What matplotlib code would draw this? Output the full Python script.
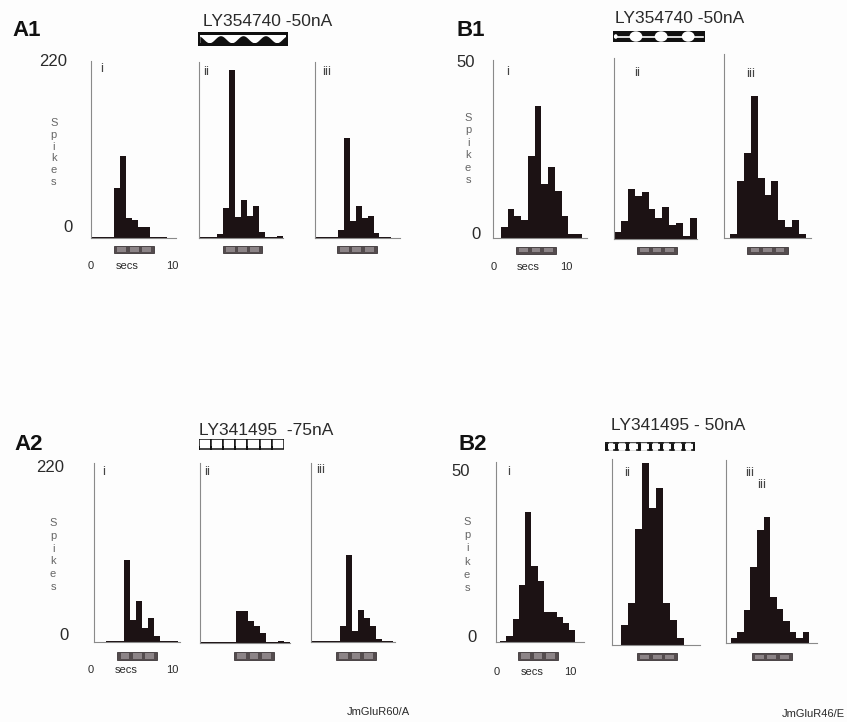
import numpy as np
import matplotlib
matplotlib.use('Agg')
import matplotlib.pyplot as plt
from matplotlib.patches import Rectangle, Ellipse

plt.rcParams['font.family'] = ['Liberation Sans', 'DejaVu Sans']

W, H = 847, 722

# spike counts per time bin
a1_i = [1, 1, 1, 1, 63, 102, 25, 23, 14, 14, 1, 1, 1, 0]
a1_ii = [1, 1, 1, 5, 37, 209, 26, 47, 27, 40, 7, 1, 1, 2]
a1_iii = [1, 1, 1, 1, 10, 125, 22, 40, 25, 28, 7, 1, 1, 0]
b1_i = [3, 8, 6, 5, 23, 37, 15, 20, 13, 6, 1, 1]
b1_ii = [2, 5, 14, 12, 13, 8.5, 6, 9, 4, 4.5, 1, 6]
b1_iii = [1, 16, 24, 40, 17, 12, 16, 5, 3, 5, 1]
a2_i = [0, 0, 1, 1, 2, 101, 27, 51, 18, 30, 8, 2, 1, 1]
a2_ii = [1, 1, 1, 1, 2, 2, 39, 39, 27, 21, 12, 2, 2, 3, 1]
a2_iii = [1, 1, 1, 2, 1, 20, 107, 14, 40, 30, 20, 4, 2, 1]
b2_i = [0.4, 1.8, 6.4, 16, 36, 21, 17, 8.5, 8.5, 7, 5.3, 3.4]
b2_ii = [5.5, 11.7, 32, 50.5, 38, 43.5, 11.5, 7, 2]
b2_iii = [1.4, 3.2, 9.2, 21, 31.4, 34.8, 12.7, 9.4, 6.3, 3, 1.4, 3.2]

numerals = ['i', 'ii', 'iii']
drug_titles = ['LY354740 -50nA', 'LY354740 -50nA', 'LY341495  -75nA', 'LY341495 - 50nA']

bar_color = '#1c1214'
axis_color = '#8a8a8a'
text_color = '#2a2a2a'

fig = plt.figure(figsize=(W / 100, H / 100), dpi=100)
fig.patch.set_facecolor('#fdfdfd')


def fx(x):
    return x / W


def fy(y):
    return 1 - y / H


def txt(x, y, s, size, **kw):
    kw.setdefault('color', text_color)
    fig.text(fx(x), fy(y), s, fontsize=size, ha=kw.pop('ha', 'center'),
             va=kw.pop('va', 'center'), **kw)


def histo(counts, left, right, top, base, binw, first, ymax):
    ax = fig.add_axes([fx(left), fy(base), (right - left) / W, (base - top) / H])
    ax.set_facecolor('none')
    off = (first - left) / binw
    x = off + np.arange(len(counts))
    ax.bar(x, counts, width=1.0, align='edge', color=bar_color, linewidth=0)
    ax.set_xlim(0, (right - left) / binw)
    ax.set_ylim(0, ymax)
    for s in ['top', 'right']:
        ax.spines[s].set_visible(False)
    for s in ['left', 'bottom']:
        ax.spines[s].set_color(axis_color)
        ax.spines[s].set_linewidth(0.8)
    ax.set_xticks([])
    ax.set_yticks([])
    return ax


def stim_bar(x0, x1, y0, y1):
    fig.patches.append(Rectangle((fx(x0), fy(y1)), (x1 - x0) / W, (y1 - y0) / H,
                                 transform=fig.transFigure, facecolor='#544c4e',
                                 edgecolor='#3c3638', linewidth=0.6))
    w = (x1 - x0)
    for k in range(3):
        sx = x0 + w * (0.08 + k * 0.31)
        fig.patches.append(Rectangle((fx(sx), fy(y1 - 1.5)), (w * 0.22) / W, (y1 - y0 - 3) / H,
                                     transform=fig.transFigure, facecolor='#8c8487',
                                     linewidth=0))


def drug_axes(x0, x1, y0, y1):
    ax = fig.add_axes([fx(x0), fy(y1), (x1 - x0) / W, (y1 - y0) / H])
    ax.set_xlim(0, 1)
    ax.set_ylim(0, 1)
    ax.axis('off')
    return ax


def spikes(x, y0, y1):
    step = (y1 - y0) / 5
    for k, ch in enumerate('Spikes'):
        txt(x, y0 + k * step, ch, 8, color='#666666')


def secs(x0, xs, x10, y):
    txt(x0, y, '0', 8)
    txt(xs, y, 'secs', 8)
    txt(x10, y, '10', 8)


# ---------------- A1 ----------------
histo(a1_i, 90.7, 176, 61, 238.3, 5.9, 90.7, 220)
histo(a1_ii, 199, 282.7, 61.7, 237.7, 6.0, 199, 220)
histo(a1_iii, 315, 400, 61.7, 238.3, 5.85, 315, 220)
for (x0, x1) in [(114.3, 154), (222.7, 262.3), (336.7, 376.7)]:
    stim_bar(x0, x1, 245.5, 253)
for (x, y), n in zip([(101.7, 68.5), (205.7, 72), (326.7, 72)], numerals):
    txt(x, y, n, 9.5, color='#444444')
txt(27, 30, 'A1', 16, fontweight='bold', color='#111111')
txt(53, 61.5, '220', 12)
txt(67.5, 227, '0', 12)
spikes(53.7, 123, 182)
secs(90.7, 126.7, 172.7, 265.7)
txt(267.5, 21, drug_titles[0], 12.5)
ax = drug_axes(198, 288, 31.5, 45.5)
ax.add_patch(Rectangle((0, 0), 1, 1, facecolor='#111111', linewidth=0))
ax.add_patch(Rectangle((0.02, 0.15), 0.96, 0.6, facecolor='white', linewidth=0))
xw = np.linspace(0.02, 0.98, 400)
ax.fill_between(xw, 0.15, 0.2 + 0.5 * (0.5 + 0.5 * np.cos(2 * np.pi * 4 * xw)), color='#111111', linewidth=0)

# ---------------- B1 ----------------
histo(b1_i, 492.7, 586.7, 60, 237.7, 6.73, 501, 50)
histo(b1_ii, 614.3, 696.7, 58.3, 239.3, 6.86, 614.3, 50)
histo(b1_iii, 724, 810.7, 54, 237.7, 6.9, 730, 52)
for (x0, x1) in [(516, 556), (637.3, 676.7), (747.3, 787.7)]:
    stim_bar(x0, x1, 247, 254)
for (x, y), n in zip([(507.3, 71.7), (637.3, 73.3), (751, 74)], numerals):
    txt(x, y, n, 9.5, color='#444444')
txt(471, 30, 'B1', 16, fontweight='bold', color='#111111')
txt(466, 62.5, '50', 12)
txt(476.5, 234.5, '0', 12)
spikes(468, 118, 180)
secs(494, 528.3, 566.7, 266.7)
txt(680, 18.5, drug_titles[1], 12.5)
ax = drug_axes(613, 704.7, 30.7, 42.3)
ax.add_patch(Rectangle((0, 0), 1, 1, facecolor='#111111', linewidth=0))
ax.plot([0.02, 0.98], [0.5, 0.5], color='white', lw=1.2)
for cx in [0.25, 0.525, 0.82]:
    ax.add_patch(Ellipse((cx, 0.5), 0.14, 0.9, facecolor='white', linewidth=0))
ax.add_patch(Ellipse((0.03, 0.5), 0.04, 0.4, facecolor='white', linewidth=0))

# ---------------- A2 ----------------
histo(a2_i, 94, 180, 463.3, 642.3, 6.0, 94, 220)
histo(a2_ii, 200, 290, 462.7, 643.3, 6.0, 200, 220)
histo(a2_iii, 310.7, 395, 463.3, 642.3, 5.9, 310.7, 220)
for (x0, x1) in [(117.3, 157.3), (234, 274), (336, 376)]:
    stim_bar(x0, x1, 651.7, 660)
for (x, y), n in zip([(104, 471.7), (206.7, 472.3), (321, 470)], numerals):
    txt(x, y, n, 9.5, color='#444444')
txt(29, 444.5, 'A2', 16, fontweight='bold', color='#111111')
txt(50.5, 467.5, '220', 12)
txt(64.3, 635, '0', 12)
spikes(53, 523, 587)
secs(90.7, 126, 172.7, 670)
txt(266, 430.5, drug_titles[2], 12.5)
ax = drug_axes(198.5, 284, 439, 449.5)
n = 7
for k in range(n):
    ax.add_patch(Rectangle((k / n, 0.02), 1 / n, 0.96, facecolor='white',
                           edgecolor='#111111', linewidth=1.1))
    ax.add_patch(Rectangle((k / n - 0.012, 0.0), 0.024, 0.35, facecolor='#111111', linewidth=0))

# ---------------- B2 ----------------
histo(b2_i, 496, 584, 461.7, 642.3, 6.28, 500, 50)
histo(b2_ii, 611.7, 700, 459.3, 645, 7.0, 621, 51.4)
histo(b2_iii, 726, 817.3, 460, 643.3, 6.56, 730.7, 50.7)
for (x0, x1), (y0, y1) in zip([(518, 558), (637.3, 677), (751.7, 791.7)],
                              [(651.7, 660), (653, 660), (653, 660)]):
    stim_bar(x0, x1, y0, y1)
for (x, y), n in zip([(508.3, 471.7), (626.7, 472.7), (750, 473.3)], numerals):
    txt(x, y, n, 9.5, color='#444444')
txt(761.7, 485, 'iii', 9.5, color='#444444')
txt(472.5, 444, 'B2', 16, fontweight='bold', color='#111111')
txt(460.5, 472, '50', 12)
txt(472.3, 638, '0', 12)
spikes(467, 522, 588)
secs(496.7, 531.7, 570, 672)
txt(678, 425, drug_titles[3], 12.5)
ax = drug_axes(605, 694.7, 442.3, 450.7)
ax.add_patch(Rectangle((0.0, 0.0), 1, 1, facecolor='white', edgecolor='#555555', linewidth=1.0))
n = 8
for k in range(n + 1):
    xk = min(max(k / n, 0.01), 0.99)
    ax.plot([xk, xk], [0.05, 0.95], color='#151515', lw=2.2, solid_capstyle='butt')
    ax.plot([xk - 0.02, xk + 0.02], [0.9, 0.9], color='#151515', lw=1.2)
    ax.plot([xk - 0.02, xk + 0.02], [0.1, 0.1], color='#151515', lw=1.2)

# footers
txt(378, 712, 'JmGluR60/A', 8)
txt(782, 714, 'JmGluR46/E', 8, ha='left')

fig.savefig('out.png', dpi=100, facecolor=fig.get_facecolor())
